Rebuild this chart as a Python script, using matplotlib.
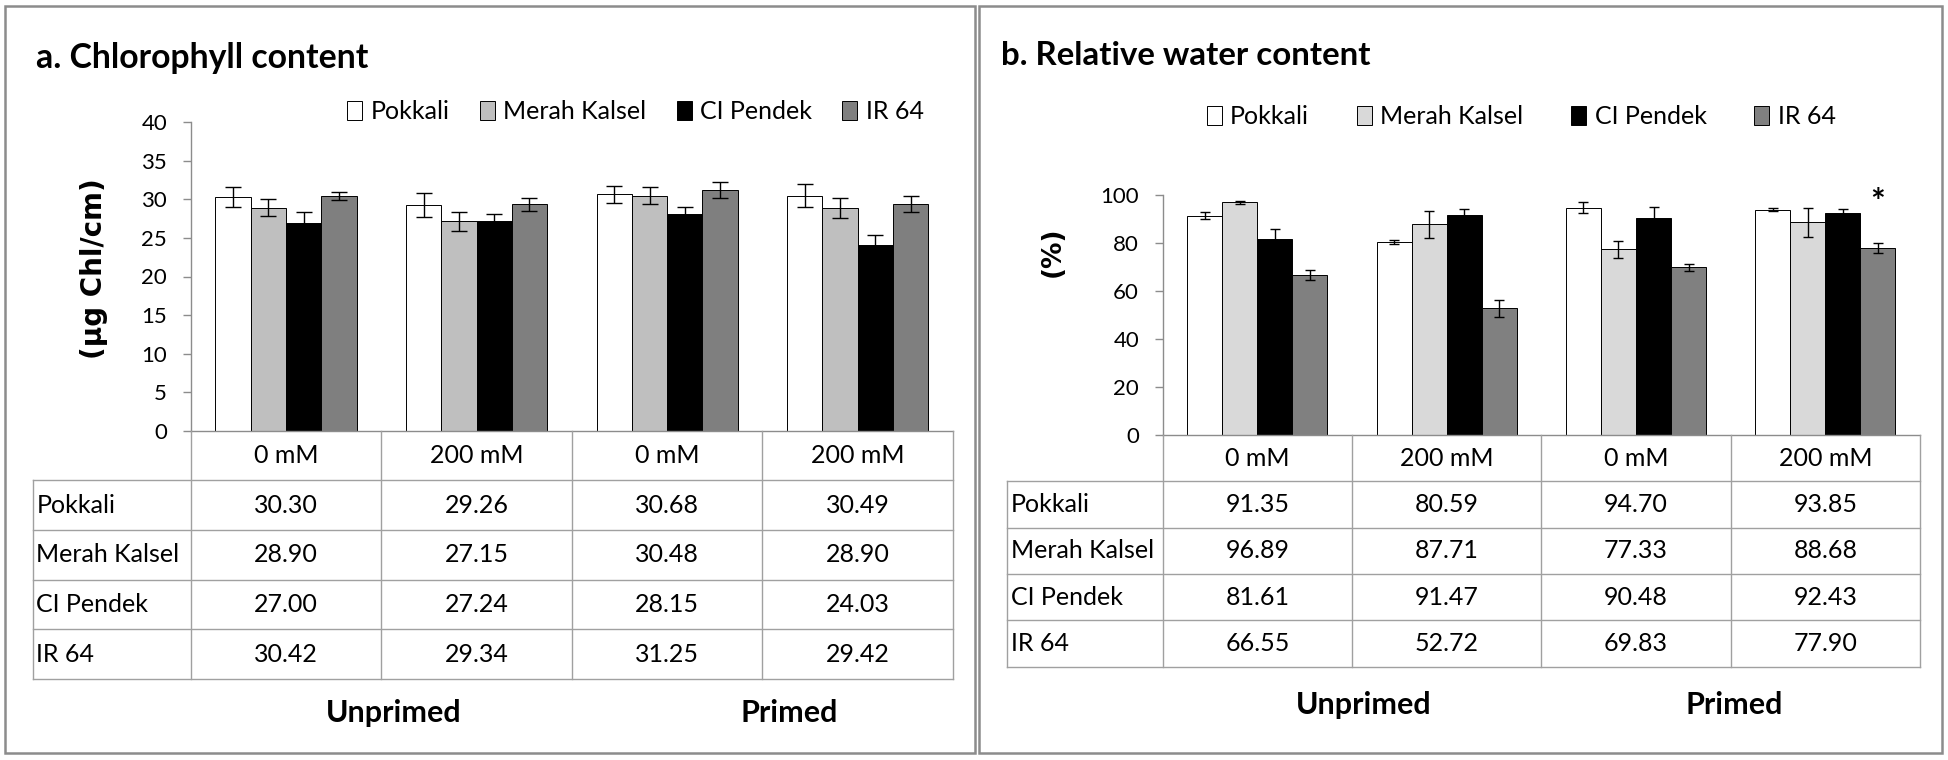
import matplotlib
matplotlib.use('Agg')
import matplotlib.pyplot as plt
from matplotlib.patches import Rectangle

plt.rcParams['font.family'] = ['Lato', 'DejaVu Sans']

W, H = 1948, 760

# ---------------- data ----------------
conditions = ['0 mM', '200 mM', '0 mM', '200 mM']
treatments = ['Unprimed', 'Primed']
varieties = ['Pokkali', 'Merah Kalsel', 'CI Pendek', 'IR 64']

chl_pokkali = [30.30, 29.26, 30.68, 30.49]
chl_merah = [28.90, 27.15, 30.48, 28.90]
chl_ci = [27.00, 27.24, 28.15, 24.03]
chl_ir64 = [30.42, 29.34, 31.25, 29.42]
chl_err_pokkali = [1.35, 1.55, 1.10, 1.45]
chl_err_merah = [1.10, 1.25, 1.10, 1.25]
chl_err_ci = [1.40, 0.90, 0.90, 1.30]
chl_err_ir64 = [0.50, 0.85, 1.05, 1.05]

rwc_pokkali = [91.35, 80.59, 94.70, 93.85]
rwc_merah = [96.89, 87.71, 77.33, 88.68]
rwc_ci = [81.61, 91.47, 90.48, 92.43]
rwc_ir64 = [66.55, 52.72, 69.83, 77.90]
rwc_err_pokkali = [1.4, 0.8, 2.3, 0.7]
rwc_err_merah = [0.5, 5.5, 3.7, 6.1]
rwc_err_ci = [4.2, 2.6, 4.6, 1.6]
rwc_err_ir64 = [2.1, 3.6, 1.3, 2.2]

chl_ticks = [0, 5, 10, 15, 20, 25, 30, 35, 40]
rwc_ticks = [0, 20, 40, 60, 80, 100]

GRAY = '#8c8c8c'
TBL = '#a0a0a0'


def px_rect(x0, y0, x1, y1):
    return [x0 / W, 1 - y1 / H, (x1 - x0) / W, (y1 - y0) / H]


fig = plt.figure(figsize=(W / 100, H / 100), dpi=100)

# panel borders
bg = fig.add_axes([0, 0, 1, 1])
bg.set_xlim(0, W)
bg.set_ylim(H, 0)
bg.axis('off')
bg.add_patch(Rectangle((5, 6), 970, 747, fill=False, ec=GRAY, lw=1.8))
bg.add_patch(Rectangle((979, 6), 963, 747, fill=False, ec=GRAY, lw=1.8))


def panel(cfg):
    series = cfg['series']
    errs = cfg['errs']
    colors = cfg['colors']
    x0, y_top, x1, y0 = cfg['axes_px']
    ax = fig.add_axes(px_rect(x0, y_top, x1, y0))
    x = list(range(len(conditions)))
    w = 0.185
    offs = [-1.5, -0.5, 0.5, 1.5]
    handles = []
    for k, (vals, e, c, lab) in enumerate(zip(series, errs, colors, varieties)):
        xs = [xi + offs[k] * w for xi in x]
        b = ax.bar(xs, vals, width=w, color=c, edgecolor='black', linewidth=0.7,
                   label=lab, zorder=2)
        handles.append(b)
        ax.errorbar(xs, vals, yerr=e, fmt='none', ecolor='black', elinewidth=1.0,
                    capsize=cfg['capsize'], capthick=1.0, zorder=3)
    ax.set_xlim(-0.5, len(conditions) - 0.5)
    ax.set_ylim(cfg['ticks'][0], cfg['ticks'][-1])
    ax.set_yticks(cfg['ticks'])
    ax.set_xticks([])
    for s in ['top', 'right']:
        ax.spines[s].set_visible(False)
    for s in ['left', 'bottom']:
        ax.spines[s].set_color(GRAY)
        ax.spines[s].set_linewidth(1.0)
    ax.tick_params(axis='y', direction='out', length=6, width=1.0, color=GRAY,
                   pad=11, labelsize=16)
    ax.patch.set_alpha(0)

    # legend
    lx, ly = cfg['legend_px']
    ax.legend(handles=handles, loc='center left', bbox_to_anchor=(lx / W, 1 - ly / H),
              bbox_transform=fig.transFigure, ncol=4, frameon=False, borderpad=0,
              borderaxespad=0, handlelength=0.6, handleheight=0.8,
              handletextpad=0.35, columnspacing=cfg['colspace'], fontsize=18)

    # data table
    tx0, ty0, ty1 = cfg['table_px']
    left = -0.5 - (x0 - tx0) / ((x1 - x0) / len(conditions))
    tax = fig.add_axes(px_rect(tx0, y0, x1, ty1))
    nrow = len(varieties) + 1
    tax.set_xlim(left, len(conditions) - 0.5)
    tax.set_ylim(nrow, 0)
    tax.axis('off')
    for r in range(1, nrow + 1):
        tax.plot([left, len(conditions) - 0.5], [r, r], color=TBL, lw=1.0, clip_on=False)
    tax.plot([left, left], [1, nrow], color=TBL, lw=1.0, clip_on=False)
    for c in range(len(conditions) + 1):
        xc = c - 0.5
        tax.plot([xc, xc], [0, nrow], color=TBL, lw=1.0, clip_on=False)
    for i, cond in enumerate(conditions):
        tax.text(i, 0.5, cond, ha='center', va='center', fontsize=18)
    for r, (lab, vals) in enumerate(zip(varieties, series)):
        tax.text(left + 0.02, r + 1.5, lab, ha='left', va='center', fontsize=18)
        for i, v in enumerate(vals):
            tax.text(i, r + 1.5, f'{v:.2f}', ha='center', va='center', fontsize=18)

    # titles and labels
    tx, tyb = cfg['title_px']
    fig.text(tx / W, 1 - tyb / H, cfg['title'], ha='left', va='baseline',
             fontsize=cfg['title_size'], fontweight='bold')
    yx, yy = cfg['ylabel_px']
    fig.text(yx / W, 1 - yy / H, cfg['ylabel'], rotation=90, ha='center', va='center',
             fontsize=cfg['ylabel_size'], fontweight='bold', family='DejaVu Sans')
    for t, (px, py) in zip(treatments, cfg['treat_px']):
        fig.text(px / W, 1 - py / H, t, ha='center', va='center', fontsize=22,
                 fontweight='bold')
    return ax


panel(dict(
    series=[chl_pokkali, chl_merah, chl_ci, chl_ir64],
    errs=[chl_err_pokkali, chl_err_merah, chl_err_ci, chl_err_ir64],
    colors=['white', '#bfbfbf', 'black', '#7f7f7f'],
    axes_px=(190.7, 122.3, 953, 430.7),
    ticks=chl_ticks,
    capsize=5.8,
    legend_px=(347, 111.7),
    colspace=1.2,
    table_px=(32.6, 430.7, 679),
    title='a. Chlorophyll content', title_px=(36, 68), title_size=24.3,
    ylabel='(µg Chl/cm)', ylabel_px=(94, 269), ylabel_size=20,
    treat_px=[(394, 713), (789, 713)],
))

ax2 = panel(dict(
    series=[rwc_pokkali, rwc_merah, rwc_ci, rwc_ir64],
    errs=[rwc_err_pokkali, rwc_err_merah, rwc_err_ci, rwc_err_ir64],
    colors=['white', '#d9d9d9', 'black', '#808080'],
    axes_px=(1162.7, 195, 1920, 435),
    ticks=rwc_ticks,
    capsize=3.8,
    legend_px=(1206.5, 116.7),
    colspace=1.9,
    table_px=(1007.3, 435, 666.7),
    title='b. Relative water content', title_px=(1001, 65), title_size=23.8,
    ylabel='(%)', ylabel_px=(1052.6, 252), ylabel_size=19,
    treat_px=[(1364, 705), (1734, 705)],
))

# significance mark above IR 64, 200 mM primed
k = 3
ax2.text(k + 1.5 * 0.185, rwc_ir64[k] + rwc_err_ir64[k] + 12.6, '*', ha='center',
         va='baseline', fontsize=25, fontweight='bold', clip_on=False)

fig.savefig('out.png', dpi=100)
